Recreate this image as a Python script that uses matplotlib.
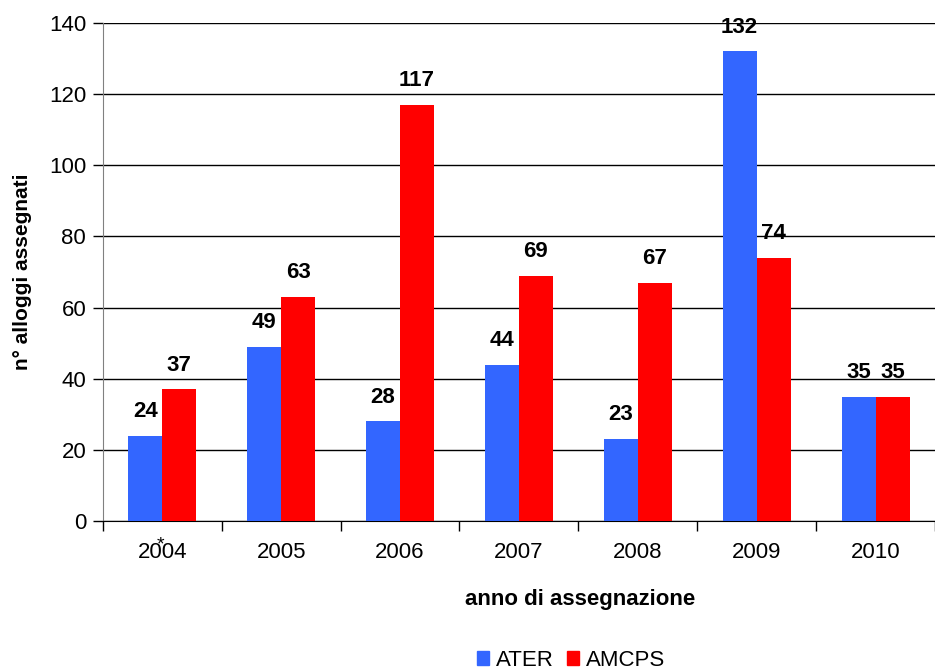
import matplotlib
matplotlib.use('Agg')
import matplotlib.pyplot as plt
import numpy as np
from matplotlib.patches import Patch

plt.rcParams['font.family'] = ['Liberation Sans', 'DejaVu Sans']

# data
anni = ['2004', '2005', '2006', '2007', '2008', '2009', '2010']
ater = [24, 49, 28, 44, 23, 132, 35]
amcps = [37, 63, 117, 69, 67, 74, 35]

blue = '#3366FF'
red = '#FF0000'

fig = plt.figure(figsize=(9.35, 6.71), dpi=100)
ax = fig.add_axes([0.110, 0.2235, 0.890, 0.7422])

x = np.arange(len(anni)) + 0.5
w = 0.286
b1 = ax.bar(x - w / 2, ater, width=w, color=blue, zorder=3)
b2 = ax.bar(x + w / 2, amcps, width=w, color=red, zorder=3)

# value labels above bars
for bars, vals in ((b1, ater), (b2, amcps)):
    for r, v in zip(bars, vals):
        ax.annotate(str(v), (r.get_x() + r.get_width() / 2, v),
                    xytext=(0, 10), textcoords='offset points',
                    ha='center', va='bottom', fontsize=16, fontweight='bold')

ax.set_xlim(0, len(anni))
ax.set_ylim(0, 140)
ax.set_yticks(range(0, 141, 20))
ax.yaxis.grid(True, color='black', linewidth=1, zorder=0)
ax.set_axisbelow(True)

ax.set_xticks(x)
ax.set_xticklabels(anni)
ax.set_xticks(np.arange(len(anni) + 1), minor=True)
ax.tick_params(axis='x', which='major', length=0, pad=15, labelsize=16)
ax.tick_params(axis='x', which='minor', length=7, width=1, color='black')
ax.tick_params(axis='y', length=7, width=1, color='black', labelsize=16, pad=5)

for s in ('top', 'right'):
    ax.spines[s].set_visible(False)
ax.spines['left'].set_color('#808080')
ax.spines['bottom'].set_color('black')

# asterisk over the 2004 label
fig.text(0.172, 0.188, '*', ha='center', va='center', fontsize=14)

fig.text(0.024, 0.595, 'n° alloggi assegnati', rotation=90, ha='center',
         va='center', fontsize=15, fontweight='bold')
fig.text(0.62, 0.106, 'anno di assegnazione', ha='center', va='center',
         fontsize=16, fontweight='bold')

handles = [Patch(color=blue, label='ATER'), Patch(color=red, label='AMCPS')]
fig.legend(handles=handles, loc='center', bbox_to_anchor=(0.611, 0.016),
           ncol=2, frameon=False, fontsize=16, handlelength=0.55,
           handleheight=0.6, handletextpad=0.3, columnspacing=0.6,
           borderaxespad=0)

fig.savefig('out.png', dpi=100)
